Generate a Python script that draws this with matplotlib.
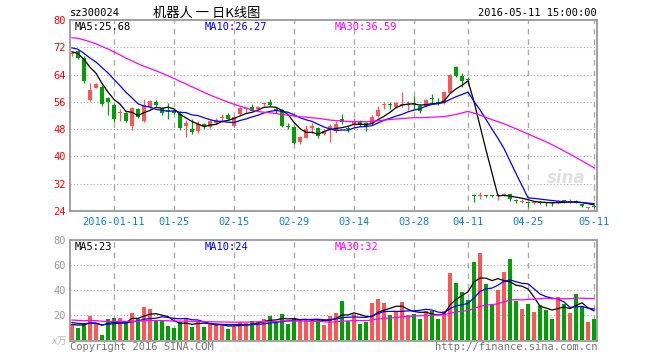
import matplotlib
matplotlib.use('Agg')
import matplotlib.pyplot as plt
import pandas as pd

plt.rcParams['font.family'] = ['DejaVu Sans Mono', 'Noto Sans CJK SC']

# daily candles 2015-12-30 .. 2016-05-11 (88 trading days)
opens = [70.0, 70.8, 69.0, 56.6, 60.2, 60.5, 57.0, 55.2, 52.6, 52.6,
         48.8, 54.0, 50.4, 54.6, 56.0, 54.3, 53.6, 53.4, 52.5, 48.8,
         48.1, 47.5, 49.6, 48.7, 49.9, 51.3, 52.2, 49.0, 52.5, 53.8,
         54.6, 54.0, 55.3, 56.0, 53.8, 53.7, 48.8, 48.7, 44.3, 45.5,
         48.2, 48.4, 46.6, 48.0, 47.5, 51.0, 48.4, 49.3, 50.0, 49.8,
         49.6, 51.9, 55.0, 55.2, 54.6, 55.0, 55.0, 55.8, 54.9, 54.7,
         57.0, 56.1, 55.7, 58.7, 66.1, 63.5, 62.7, 28.5, 28.3, 28.6,
         28.5, 28.4, 28.5, 28.9, 27.1, 26.6, 26.6, 26.3, 26.6, 26.5,
         26.3, 26.3, 27.1, 26.6, 27.0, 26.0, 25.0, 25.5]
highs = [71.0, 71.2, 69.3, 61.6, 61.5, 60.8, 57.5, 55.5, 54.0, 52.9,
         54.4, 54.3, 56.8, 56.5, 56.4, 54.6, 55.8, 53.8, 53.3, 50.6,
         51.0, 50.5, 49.9, 50.8, 51.3, 52.5, 52.6, 51.9, 54.6, 54.6,
         55.3, 54.8, 55.8, 56.8, 54.6, 53.9, 49.7, 48.9, 46.0, 49.1,
         49.8, 48.7, 48.0, 49.5, 50.4, 52.5, 49.0, 51.3, 50.6, 50.2,
         52.0, 54.9, 56.0, 56.0, 56.0, 59.0, 56.3, 57.7, 55.3, 56.9,
         58.4, 57.0, 59.3, 64.2, 66.5, 64.5, 63.3, 28.9, 29.6, 28.8,
         28.6, 28.9, 29.3, 29.1, 27.6, 27.4, 26.9, 26.8, 26.9, 26.7,
         26.5, 27.2, 27.3, 27.4, 27.2, 26.1, 25.3, 25.8]
lows = [69.5, 68.5, 61.5, 56.3, 60.0, 54.9, 52.0, 50.2, 50.4, 50.2,
        47.8, 51.2, 50.0, 54.3, 54.8, 52.0, 51.0, 52.3, 47.8, 45.8,
        46.5, 47.0, 48.0, 48.4, 49.6, 50.0, 50.8, 48.6, 51.9, 52.6,
        53.2, 53.5, 54.9, 54.8, 52.8, 48.5, 47.9, 43.6, 43.6, 45.3,
        46.8, 45.5, 46.2, 44.3, 46.8, 49.5, 47.3, 49.0, 49.0, 47.6,
        49.3, 51.6, 53.8, 53.8, 54.3, 54.5, 53.5, 53.7, 52.7, 54.4,
        55.7, 55.0, 55.4, 58.5, 63.4, 60.4, 61.5, 26.5, 27.5, 28.2,
        28.1, 27.2, 28.3, 26.8, 26.2, 26.2, 25.3, 26.1, 26.0, 25.4,
        25.6, 26.1, 26.4, 26.4, 26.2, 25.2, 24.7, 24.9]
closes = [70.4, 68.8, 62.0, 59.6, 61.2, 55.5, 56.1, 51.1, 52.9, 50.4,
          54.2, 51.5, 55.1, 56.3, 55.0, 52.6, 53.2, 52.7, 48.2, 49.8,
          47.3, 49.6, 48.8, 50.5, 50.8, 51.6, 51.1, 51.6, 54.3, 54.2,
          53.4, 54.5, 55.6, 55.0, 53.6, 48.8, 48.6, 44.0, 45.8, 48.1,
          48.8, 46.1, 47.5, 49.0, 49.6, 50.0, 48.1, 50.4, 49.2, 48.9,
          51.7, 53.7, 55.3, 55.0, 55.8, 55.4, 55.3, 55.5, 53.2, 56.6,
          56.7, 55.8, 58.8, 64.0, 63.7, 62.0, 62.3, 28.3, 28.5, 28.4,
          28.3, 28.6, 29.1, 27.4, 26.9, 26.8, 26.4, 26.6, 26.4, 26.3,
          26.2, 26.8, 27.0, 27.0, 26.3, 25.4, 25.1, 25.1]
# volume, x 10k lots
volumes = [12.5, 9.3, 13.3, 19.5, 13.0, 4.0, 16.5, 17.3, 17.3, 13.9,
           21.6, 16.5, 26.4, 24.8, 16.0, 15.5, 11.2, 9.3, 14.7, 16.8,
           10.7, 14.7, 10.7, 12.5, 12.0, 12.0, 8.8, 10.7, 14.7, 13.3,
           15.2, 14.1, 16.8, 19.5, 14.7, 20.8, 12.8, 17.3, 16.0, 16.0,
           16.8, 15.7, 12.0, 19.5, 21.9, 31.2, 15.5, 20.5, 12.8, 14.7,
           29.6, 32.8, 29.6, 20.0, 22.7, 30.4, 20.0, 20.8, 16.8, 23.2,
           23.2, 16.8, 23.2, 53.6, 45.6, 38.4, 32.0, 62.4, 69.6, 44.8,
           28.8, 40.0, 54.4, 64.8, 31.2, 24.8, 28.8, 22.4, 28.0, 24.0,
           16.8, 34.4, 28.8, 21.6, 36.8, 27.2, 14.4, 16.8]

# closes/volumes of the 29 days before the window (only feed the MA lines)
prev_closes = [74.0, 75.5, 77.0, 78.5, 79.0, 78.0, 77.5, 78.5, 79.5, 78.0,
               76.5, 77.0, 76.0, 75.0, 74.5, 76.0, 75.0, 74.0, 73.5, 72.5,
               73.0, 74.0, 73.5, 72.5, 72.0, 71.5, 70.5, 71.0, 70.0]
prev_volumes = [18, 20, 17, 15, 19, 22, 16, 14, 17, 18, 15, 16, 19, 17, 14,
                16, 18, 15, 17, 16, 17, 15, 16, 14, 16, 12, 13, 11, 14]

date_pos = [7, 17, 27, 37, 47, 57, 66, 76, 87]
date_labels = ['2016-01-11', '01-25', '02-15', '02-29', '03-14', '03-28',
               '04-11', '04-25', '05-11']
price_ticks = [24, 32, 40, 48, 56, 64, 72, 80]
vol_ticks = [20, 40, 60, 80]

RED = '#ff5555'
GREEN = '#00a000'
GRID = '#aaaaaa'
W, H = 660, 360

n = len(closes)
xs = list(range(n))
c_all = pd.Series(prev_closes + closes)
v_all = pd.Series(prev_volumes + volumes)
ma = {k: c_all.rolling(k).mean().iloc[-n:].values for k in (5, 10, 30)}
vma = {k: v_all.rolling(k).mean().iloc[-n:].values for k in (5, 10, 30)}
colors = [RED if c >= o else GREEN for o, c in zip(opens, closes)]


def fx(px):
    return px / W


def fy(py):
    return 1 - py / H


fig = plt.figure(figsize=(6.6, 3.6), dpi=100)
ax = fig.add_axes([fx(70), fy(211), 527 / W, 191 / H])
ax2 = fig.add_axes([fx(70), fy(341), 527 / W, 101 / H])

# candles
ax.vlines(xs, lows, highs, colors=colors, lw=0.9)
bodies = [max(abs(c - o), 0.3) for o, c in zip(opens, closes)]
ax.bar(xs, bodies, bottom=[min(o, c) for o, c in zip(opens, closes)],
       width=0.8, color=colors, lw=0)
ax.plot(xs, ma[5], color='black', lw=0.9)
ax.plot(xs, ma[10], color='#0000ff', lw=0.9)
ax.plot(xs, ma[30], color='#ff00ff', lw=0.9)

# volume
ax2.bar(xs, volumes, width=0.8, color=colors, lw=0)
ax2.plot(xs, vma[5], color='black', lw=0.9)
ax2.plot(xs, vma[10], color='#0000ff', lw=0.9)
ax2.plot(xs, vma[30], color='#ff00ff', lw=0.9)

for a in (ax, ax2):
    a.set_xlim(-0.33, 87.5)
    for p in date_pos:
        a.axvline(p, color=GRID, lw=1, ls=(0, (4, 3.5)), zorder=0)
    for s in a.spines.values():
        s.set_color('#999999')
        s.set_linewidth(1.3)
    a.tick_params(length=0)

ax.set_ylim(24, 80)
for y in price_ticks[1:-1]:
    ax.axhline(y, color=GRID, lw=0.8, ls=(0, (1, 2)), zorder=0)
ax.set_yticks(price_ticks)
ax.set_yticklabels([str(t) for t in price_ticks])
ax.tick_params(axis='y', labelcolor='red', labelsize=7.5, pad=3)
ax.set_xticks(date_pos)
ax.set_xticklabels(date_labels)
ax.tick_params(axis='x', labelcolor='#0a84d0', labelsize=7.5, pad=4)

ax2.set_ylim(-0.8, 80)
for y in vol_ticks[:-1]:
    ax2.axhline(y, color=GRID, lw=0.8, ls=(0, (1, 2)), zorder=0)
ax2.set_yticks(vol_ticks)
ax2.set_yticklabels([str(t) for t in vol_ticks])
ax2.tick_params(axis='y', labelcolor='#999999', labelsize=7.5, pad=3)
ax2.set_xticks([])

# header and labels
fig.text(fx(70), fy(13), 'sz300024', fontsize=7.5, va='center')
fig.text(fx(207), fy(13), '机器人 一 日K线图', fontsize=9.5,
         family=['Noto Sans CJK SC'], ha='center', va='center')
fig.text(fx(597), fy(13), '2016-05-11 15:00:00', fontsize=7.5,
         ha='right', va='center')
fig.text(fx(75), fy(27), 'MA5:25.68', fontsize=7.5, va='center')
fig.text(fx(205), fy(27), 'MA10:26.27', fontsize=7.5, va='center', color='#0000ff')
fig.text(fx(335), fy(27), 'MA30:36.59', fontsize=7.5, va='center', color='#ff00ff')
fig.text(fx(75), fy(247), 'MA5:23', fontsize=7.5, va='center')
fig.text(fx(205), fy(247), 'MA10:24', fontsize=7.5, va='center', color='#0000ff')
fig.text(fx(335), fy(247), 'MA30:32', fontsize=7.5, va='center', color='#ff00ff')
fig.text(fx(67), fy(341), 'x万', fontsize=7, ha='right', va='center',
         color='#bbbbbb', style='italic')
fig.text(fx(70), fy(347), 'Copyright 2016 SINA.COM', fontsize=7.5,
         va='center', color='#777777')
fig.text(fx(597), fy(347), 'http://finance.sina.com.cn', fontsize=7.5,
         ha='right', va='center', color='#777777')
fig.text(fx(566), fy(178), 'sina', fontsize=12, ha='center', va='center',
         color='#cccccc', alpha=0.6, family=['DejaVu Sans'], style='italic',
         weight='bold')

fig.savefig('out.png', dpi=100)
